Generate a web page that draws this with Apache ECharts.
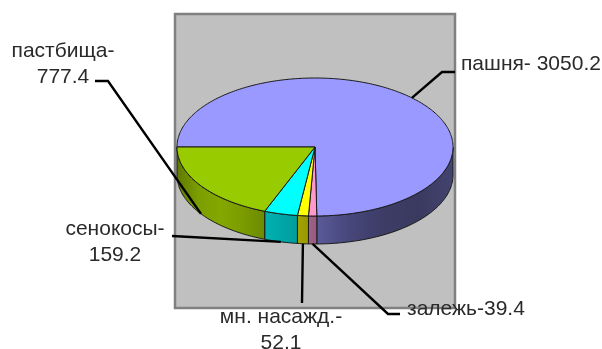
<!DOCTYPE html>
<html>
<head>
<meta charset="utf-8">
<style>html,body{margin:0;padding:0;background:#fff}#chart{width:602px;height:349px}</style>
<script src="https://cdn.jsdelivr.net/npm/echarts@6/dist/echarts.min.js"></script>
</head>
<body>
<div id="chart"></div>
<script>
// Land use breakdown, clockwise from the left edge of the disc
const categories = ['пашня', 'залежь', 'мн. насажд.', 'сенокосы', 'пастбища'];
const areas = [3050.2, 39.4, 52.1, 159.2, 777.4];
const labelTexts = ['пашня- 3050.2', 'залежь-39.4', 'мн. насажд.-\n52.1', 'сенокосы-\n159.2', 'пастбища-\n777.4'];

const topColors = ['#9999ff', '#ff99cc', '#ffff00', '#00ffff', '#99cc00'];
const wallStops = [
  ['#5a5a99', '#46467a', '#3c3c66', '#3a3a60', '#43436f'],
  ['#a0608a', '#965c80'],
  ['#a3a300', '#999900'],
  ['#00b2b2', '#009c9c'],
  ['#5f7a00', '#7c9f00', '#84a800', '#7a9c00', '#6c8a00']
];

// Disc geometry and label placement
const cx = 315, cy = 147, rx = 138, ry = 69, depth = 28;
const startAngle = 270;
const labelBoxes = [
  { x: 461, y: 64, align: 'left', elbow: [[442, 72], [455, 72]], onWall: false },
  { x: 407, y: 309, align: 'left', elbow: [[388, 314], [400, 314]], onWall: true },
  { x: 281, y: 330, align: 'center', elbow: [[302, 303]], onWall: true },
  { x: 115, y: 242, align: 'center', elbow: [[172, 236]], onWall: true },
  { x: 63, y: 64, align: 'center', elbow: [[108, 81], [95, 81]], onWall: true }
];

const total = areas.reduce((a, b) => a + b, 0);
const slices = [];
areas.reduce((from, v, i) => {
  const to = from + v / total * 360;
  slices.push({ from, to, mid: (from + to) / 2, index: i });
  return to;
}, startAngle);

function rim(deg, dy) {
  const r = deg * Math.PI / 180;
  return [cx + rx * Math.sin(r), cy - ry * Math.cos(r) + (dy || 0)];
}
function arc(from, to, dy) {
  const n = Math.max(2, Math.ceil(Math.abs(to - from)));
  const pts = [];
  for (let k = 0; k <= n; k++) pts.push(rim(from + (to - from) * k / n, dy));
  return pts;
}
// Part of a slice facing the viewer, i.e. between 90 and 270 degrees on the rim
function frontSpan(s) {
  for (const shift of [0, -360]) {
    const a = Math.max(s.from + shift, 90), b = Math.min(s.to + shift, 270);
    if (b > a) return [a, b];
  }
  return null;
}
const itemData = areas.map((v, i) => ({ name: categories[i], value: v }));

const option = {
  animation: false,
  tooltip: { show: false },
  grid: {
    show: true, left: 175, top: 14, width: 280, height: 294,
    backgroundColor: '#c0c0c0', borderColor: '#808080', borderWidth: 2.5
  },
  xAxis: { type: 'value', show: false },
  yAxis: { type: 'value', show: false },
  series: [
    {
      type: 'custom', coordinateSystem: 'none', silent: true, z: 2, data: itemData,
      renderItem(params) {
        const s = slices[params.dataIndex];
        const span = frontSpan(s);
        if (!span) return { type: 'group', children: [] };
        const top = arc(span[0], span[1], 0);
        const bottom = arc(span[1], span[0], depth);
        const xs = top.map(p => p[0]);
        const x0 = Math.min(...xs), x1 = Math.max(...xs);
        const stops = wallStops[s.index];
        return {
          type: 'polygon',
          shape: { points: top.concat(bottom) },
          style: {
            fill: {
              type: 'linear', global: true, x: x0, y: 0, x2: x1, y2: 0,
              colorStops: stops.map((c, k) => ({ offset: k / (stops.length - 1), color: c }))
            },
            stroke: '#1a1a1a', lineWidth: 1
          }
        };
      }
    },
    {
      type: 'custom', coordinateSystem: 'none', silent: true, z: 3, data: itemData,
      renderItem(params) {
        const s = slices[params.dataIndex];
        return {
          type: 'polygon',
          shape: { points: [[cx, cy]].concat(arc(s.from, s.to, 0)) },
          style: { fill: topColors[s.index], stroke: '#1a1a1a', lineWidth: 1 }
        };
      }
    },
    {
      type: 'custom', coordinateSystem: 'none', silent: true, z: 4, data: itemData,
      renderItem(params) {
        const s = slices[params.dataIndex];
        const box = labelBoxes[params.dataIndex];
        const anchor = rim(s.mid, box.onWall ? depth : 0);
        return {
          type: 'group',
          children: [
            {
              type: 'polyline',
              shape: { points: [anchor].concat(box.elbow) },
              style: { fill: 'none', stroke: '#000', lineWidth: 2.4 }
            },
            {
              type: 'text',
              style: {
                x: box.x, y: box.y, text: labelTexts[params.dataIndex],
                align: box.align, verticalAlign: 'middle', lineHeight: 26,
                font: '21px "Liberation Sans", Arial, sans-serif', fill: '#2a2a2a'
              }
            }
          ]
        };
      }
    }
  ]
};
const chart = echarts.init(document.getElementById('chart'), null, { renderer: 'canvas' });
chart.setOption(option);
</script>
</body>
</html>
